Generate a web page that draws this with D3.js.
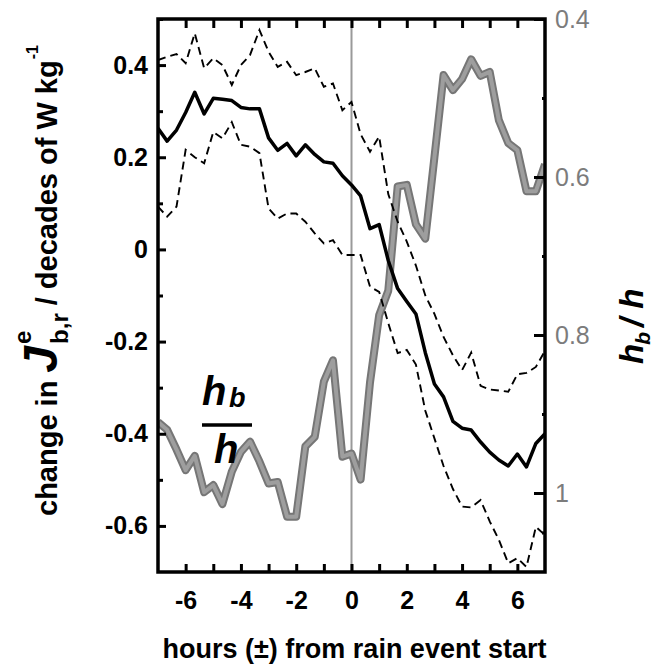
<!DOCTYPE html>
<html>
<head>
<meta charset="utf-8">
<script src="https://cdn.jsdelivr.net/npm/d3@7"></script>
<style>
  body { margin: 0; background: #fff; }
  text { font-family: "Liberation Sans", Arial, Helvetica, sans-serif; }
</style>
</head>
<body>
<div id="chart"></div>
<script>
// hours from rain event start (20 min steps)
const hours = [-7, -6.67, -6.33, -6, -5.67, -5.33, -5, -4.67, -4.33, -4, -3.67, -3.33, -3, -2.67, -2.33,
               -2, -1.67, -1.33, -1, -0.67, -0.33, 0, 0.33, 0.67, 1, 1.33, 1.67, 2, 2.33, 2.67,
               3, 3.33, 3.67, 4, 4.33, 4.67, 5, 5.33, 5.67, 6, 6.33, 6.67, 7];

// change in J (decades of W/kg), mean and bounds
const meanChange = [0.263, 0.235, 0.259, 0.297, 0.341, 0.294, 0.328, 0.326, 0.323, 0.308, 0.305, 0.305, 0.242, 0.215, 0.230,
                    0.203, 0.227, 0.206, 0.190, 0.187, 0.160, 0.140, 0.116, 0.045, 0.054, -0.024, -0.085, -0.113, -0.140, -0.224,
                    -0.292, -0.320, -0.373, -0.388, -0.392, -0.418, -0.440, -0.457, -0.470, -0.444, -0.472, -0.421, -0.400];
const upperBound = [0.411, 0.418, 0.424, 0.404, 0.469, 0.393, 0.415, 0.400, 0.357, 0.400, 0.422, 0.476, 0.429, 0.396, 0.407,
                    0.378, 0.385, 0.393, 0.353, 0.360, 0.302, 0.320, 0.250, 0.212, 0.245, 0.120, 0.060, 0.017, -0.035, -0.100,
                    -0.140, -0.190, -0.230, -0.262, -0.224, -0.296, -0.304, -0.306, -0.309, -0.271, -0.268, -0.255, -0.220];
const lowerBound = [0.093, 0.071, 0.093, 0.216, 0.200, 0.187, 0.255, 0.241, 0.276, 0.227, 0.223, 0.209, 0.089, 0.067, 0.078,
                    0.078, 0.060, 0.035, 0.013, 0.020, -0.012, -0.012, -0.012, -0.081, -0.092, -0.160, -0.225, -0.218, -0.250, -0.350,
                    -0.410, -0.470, -0.520, -0.558, -0.560, -0.544, -0.590, -0.630, -0.681, -0.670, -0.689, -0.602, -0.620];

// hb/h (right axis, reversed)
const hbRatio = [0.910, 0.920, 0.945, 0.971, 0.953, 0.999, 0.990, 1.014, 0.973, 0.948, 0.935, 0.960, 0.988, 0.986, 1.030,
                 1.030, 0.941, 0.929, 0.859, 0.832, 0.954, 0.950, 0.983, 0.860, 0.775, 0.744, 0.612, 0.610, 0.660, 0.678,
                 0.575, 0.471, 0.490, 0.476, 0.451, 0.472, 0.467, 0.528, 0.557, 0.566, 0.618, 0.618, 0.584];

const leftTicks = [0.4, 0.2, 0, -0.2, -0.4, -0.6];
const leftTickLabels = ["0.4", "0.2", "0", "-0.2", "-0.4", "-0.6"];
const leftMinor = [0.5, 0.3, 0.1, -0.1, -0.3, -0.5];
const rightTicks = [0.4, 0.6, 0.8, 1];
const rightTickLabels = ["0.4", "0.6", "0.8", "1"];
const rightMinor = [0.5, 0.7, 0.9, 1.05];
const hourTicks = [-6, -5, -4, -3, -2, -1, 0, 1, 2, 3, 4, 5, 6];
const hourLabels = [-6, -4, -2, 0, 2, 4, 6];

const margin = { top: 19, right: 109, bottom: 94, left: 158 },
      width = 654 - margin.left - margin.right,
      height = 666 - margin.top - margin.bottom;

const svg = d3.select("#chart")
              .append("svg")
              .attr("width", 654)
              .attr("height", 666)
              .append("g")
              .attr("transform", `translate(${margin.left},${margin.top})`);

const x = d3.scaleLinear().domain([-7, 7]).range([0, width]);
const y = d3.scaleLinear().domain([-0.7, 0.5]).range([height, 0]);
const yR = d3.scaleLinear().domain([0.4, 1.1]).range([0, height]);

svg.append("clipPath").attr("id", "plotclip")
   .append("rect").attr("width", width).attr("height", height);

const plot = svg.append("g").attr("clip-path", "url(#plotclip)");

// zero line
plot.append("line")
    .attr("x1", x(0)).attr("x2", x(0))
    .attr("y1", 0).attr("y2", height)
    .attr("stroke", "#9a9a9a")
    .attr("stroke-width", 2);

const pts = vals => hours.map((h, i) => [h, vals[i]]);

const line = d3.line().x(d => x(d[0])).y(d => y(d[1]));
const lineR = d3.line().x(d => x(d[0])).y(d => yR(d[1]));

// hb/h thick grey
plot.append("path")
    .datum(pts(hbRatio))
    .attr("d", lineR)
    .attr("fill", "none")
    .attr("stroke", "#767676")
    .attr("stroke-width", 8)
    .attr("stroke-linejoin", "round");
plot.append("path")
    .datum(pts(hbRatio))
    .attr("d", lineR)
    .attr("fill", "none")
    .attr("stroke", "#9e9e9e")
    .attr("stroke-width", 4)
    .attr("stroke-linejoin", "round");

[upperBound, lowerBound].forEach(vals => {
  plot.append("path")
      .datum(pts(vals))
      .attr("d", line)
      .attr("fill", "none")
      .attr("stroke", "#000")
      .attr("stroke-width", 1.9)
      .attr("stroke-dasharray", "8,5");
});

plot.append("path")
    .datum(pts(meanChange))
    .attr("d", line)
    .attr("fill", "none")
    .attr("stroke", "#000")
    .attr("stroke-width", 3.5)
    .attr("stroke-linejoin", "round");

// axes
svg.append("g")
   .call(d3.axisLeft(y).tickValues(leftTicks).tickSize(-8).tickPadding(10)
           .tickFormat((d, i) => leftTickLabels[i]));
svg.append("g").call(d3.axisLeft(y).tickValues(leftMinor).tickSize(-5).tickFormat(""));

svg.append("g")
   .attr("transform", `translate(0,${height})`)
   .call(d3.axisBottom(x).tickValues(hourTicks).tickSize(-8).tickPadding(19)
           .tickFormat(d => hourLabels.includes(d) ? String(d) : ""));
svg.append("g")
   .call(d3.axisTop(x).tickValues(hourTicks).tickSize(-9).tickFormat(""));

svg.append("g")
   .attr("transform", `translate(${width},0)`)
   .attr("class", "raxis")
   .call(d3.axisRight(yR).tickValues(rightTicks).tickSize(-11).tickPadding(10)
           .tickFormat((d, i) => rightTickLabels[i]));
svg.append("g")
   .attr("transform", `translate(${width},0)`)
   .call(d3.axisRight(yR).tickValues(rightMinor).tickSize(-3).tickFormat(""));

svg.selectAll(".domain").remove();
svg.selectAll(".tick line").attr("stroke", "#000").attr("stroke-width", 3);
svg.selectAll(".tick text")
   .attr("fill", "#000")
   .style("font-size", "25px")
   .style("font-weight", "bold");
svg.selectAll(".raxis .tick text")
   .attr("fill", "#7c7c7c")
   .style("font-weight", "normal");

svg.append("rect")
   .attr("width", width).attr("height", height)
   .attr("fill", "none")
   .attr("stroke", "#000")
   .attr("stroke-width", 3.5);

// x title
svg.append("text")
   .attr("x", x(0) + 3)
   .attr("y", height + 86)
   .attr("text-anchor", "middle")
   .style("font-size", "27px")
   .style("font-weight", "bold")
   .text("hours (±) from rain event start");

// left title, built piece by piece
const lt = svg.append("g").attr("transform", `translate(${57 - margin.left},${516 - margin.top}) rotate(-90)`);
const t1 = lt.append("text").style("font-size", "29px").style("font-weight", "bold").text("change in");
let pos = t1.node().getComputedTextLength() + 8;
const tJ = lt.append("text").attr("x", pos)
   .style("font-size", "48px").style("font-weight", "bold").style("font-style", "italic").text("J");
pos += tJ.node().getComputedTextLength() + 2;
lt.append("text").attr("x", pos).attr("y", -26)
  .style("font-size", "24px").style("font-weight", "bold").text("e");
const tbr = lt.append("text").attr("x", pos).attr("y", 11)
  .style("font-size", "24px").style("font-weight", "bold").text("b,r");
pos += tbr.node().getComputedTextLength() + 8;
const t2 = lt.append("text").attr("x", pos)
  .style("font-size", "29px").style("font-weight", "bold").text("/ decades of W kg");
pos += t2.node().getComputedTextLength() + 1;
lt.append("text").attr("x", pos).attr("y", -19)
  .style("font-size", "16px").style("font-weight", "bold").text("-1");

// right title hb / h
const rt = svg.append("g").attr("transform", `translate(${643 - margin.left},${364 - margin.top}) rotate(-90)`);
const rh = rt.append("text").style("font-size", "33px").style("font-weight", "bold").style("font-style", "italic").text("h");
let rpos = rh.node().getComputedTextLength() - 1;
const rb = rt.append("text").attr("x", rpos).attr("y", 7)
  .style("font-size", "21px").style("font-weight", "bold").style("font-style", "italic").text("b");
rpos += rb.node().getComputedTextLength() + 5;
rt.append("text").attr("x", rpos)
  .style("font-size", "33px").style("font-weight", "bold").style("font-style", "italic").text("/ h");

// in-plot fraction label
const fr = svg.append("g").attr("transform", `translate(${227 - margin.left},0)`);
fr.append("text").attr("x", -25).attr("y", 405 - margin.top)
  .style("font-size", "40px").style("font-weight", "bold").style("font-style", "italic").text("h");
fr.append("text").attr("x", 2).attr("y", 407 - margin.top)
  .style("font-size", "27px").style("font-weight", "bold").style("font-style", "italic").text("b");
fr.append("line")
  .attr("x1", -25).attr("x2", 25)
  .attr("y1", 425 - margin.top).attr("y2", 425 - margin.top)
  .attr("stroke", "#000").attr("stroke-width", 3.5);
fr.append("text").attr("x", -13).attr("y", 463 - margin.top)
  .style("font-size", "40px").style("font-weight", "bold").style("font-style", "italic").text("h");
</script>
</body>
</html>
